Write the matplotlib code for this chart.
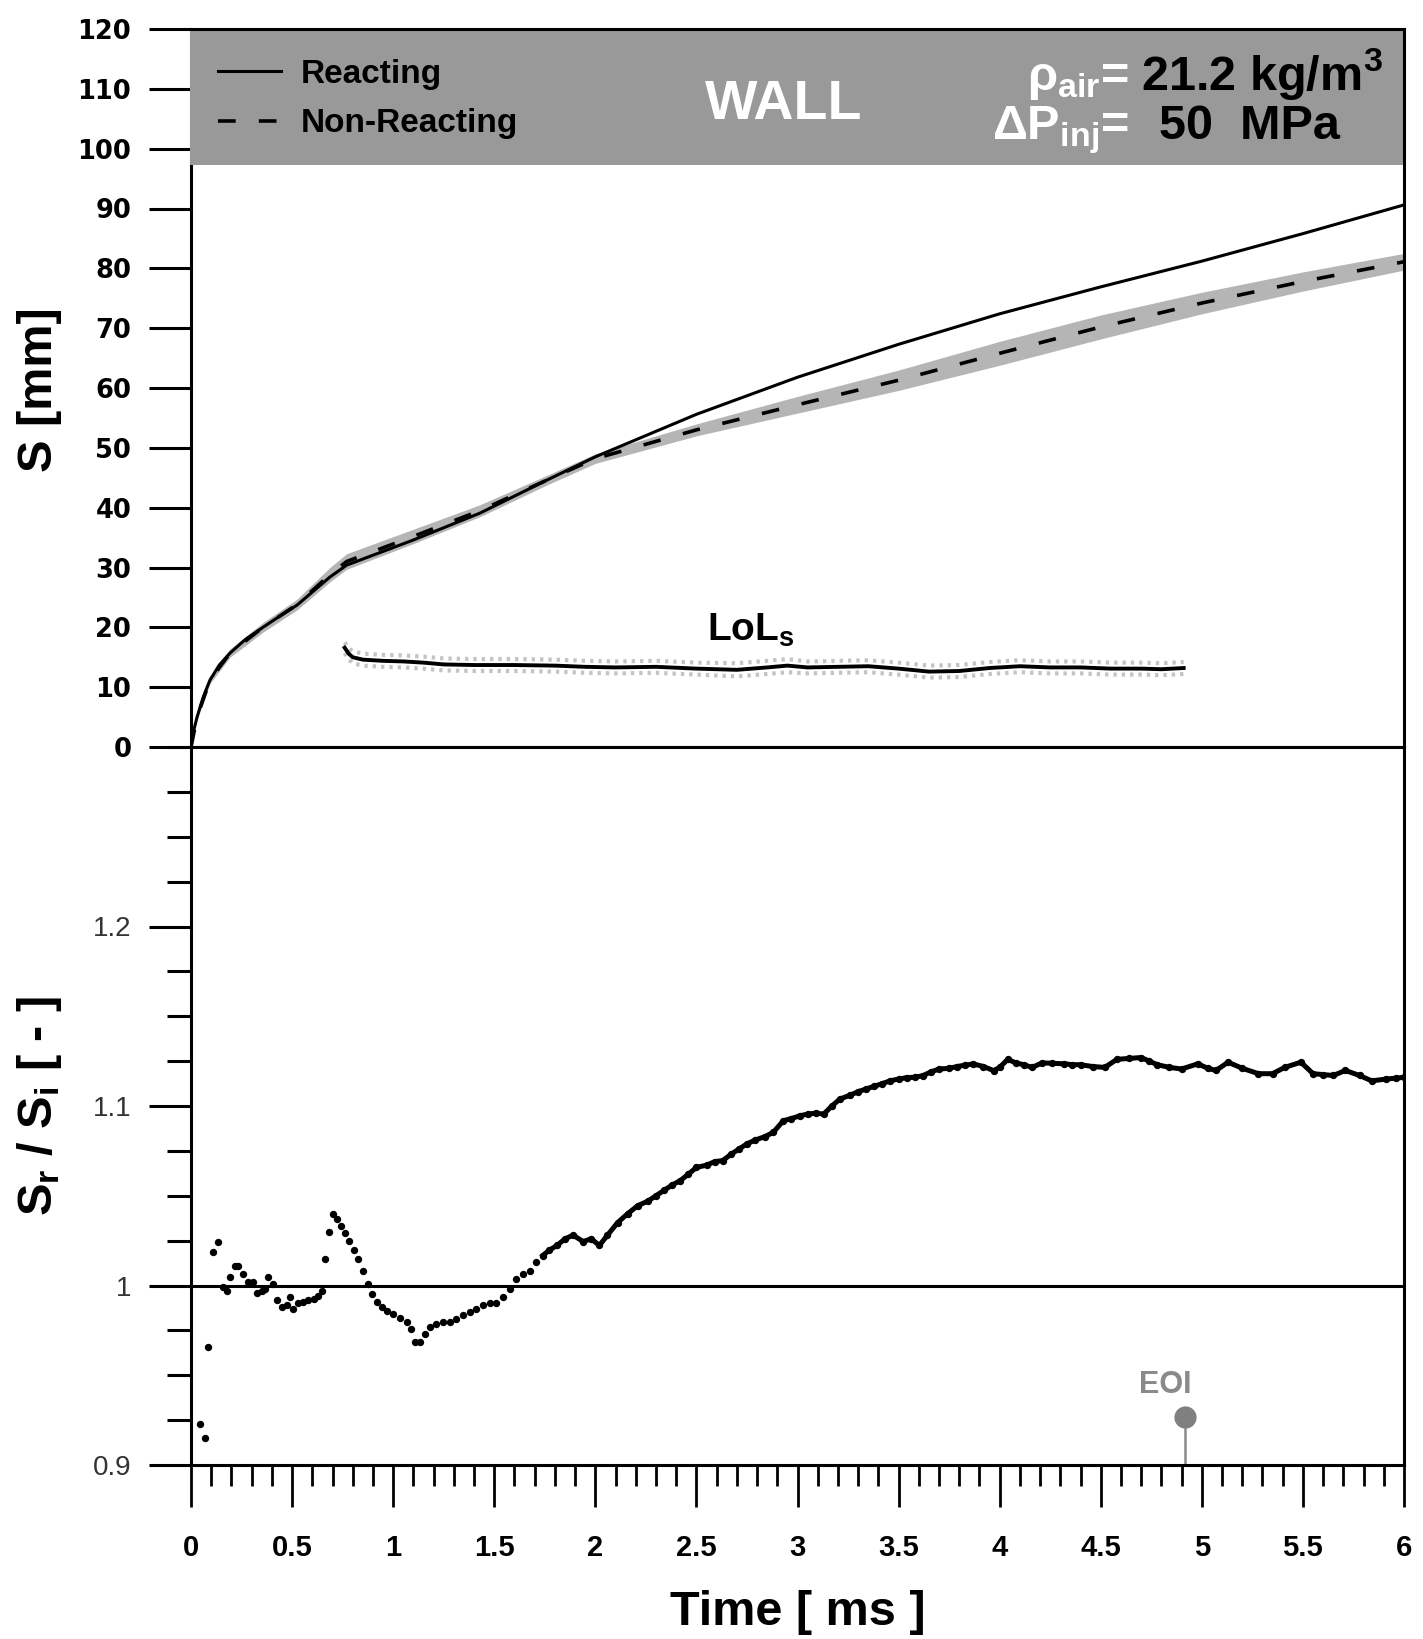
import matplotlib.pyplot as plt
from matplotlib.patches import Rectangle
from matplotlib.ticker import MultipleLocator, FixedLocator

plt.rcParams['font.family'] = ['Liberation Sans', 'DejaVu Sans']
plt.rcParams['mathtext.default'] = 'regular'

# --- upper panel: penetration S [mm] ---
t_react = [0, 0.01, 0.03, 0.06, 0.094, 0.14, 0.193, 0.27, 0.356, 0.44, 0.524, 0.6, 0.687, 0.77,
           1.1, 1.43, 1.76, 2.0, 2.5, 3.0, 3.5, 4.0, 4.5, 5.0, 5.5, 6.0]
s_react = [0, 2.3, 5.0, 8.3, 11.2, 13.7, 15.7, 18.0, 20.0, 21.9, 23.7, 25.9, 28.4, 30.4,
           34.6, 39.1, 44.6, 48.5, 55.6, 61.8, 67.3, 72.4, 76.9, 81.2, 85.8, 90.6]

t_nonreact = [0, 0.03, 0.094, 0.193, 0.356, 0.524, 0.687, 0.77, 1.1, 1.43, 1.76, 2.0,
              2.5, 3.0, 3.5, 4.0, 4.5, 5.0, 5.5, 6.0]
s_nonreact = [0, 5.0, 11.2, 15.7, 20.0, 23.8, 28.8, 31.0, 35.2, 39.5, 44.6, 48.2,
              53.0, 57.2, 61.3, 65.8, 70.2, 74.2, 77.8, 81.1]
s_nonreact_std = [0, 0.4, 0.6, 0.7, 0.8, 0.9, 1.2, 1.3, 1.2, 1.0, 0.8, 0.8,
                  1.0, 1.4, 1.7, 2.0, 2.0, 1.8, 1.6, 1.4]

t_lol = [0.76, 0.78, 0.80, 0.85, 0.95, 1.05, 1.15, 1.25, 1.4, 1.6, 1.8, 1.95, 2.1, 2.3,
         2.5, 2.7, 2.85, 2.95, 3.05, 3.2, 3.35, 3.5, 3.65, 3.8, 3.95, 4.1, 4.25, 4.4,
         4.55, 4.7, 4.8, 4.91]
s_lol = [16.6, 15.6, 15.0, 14.6, 14.4, 14.3, 14.1, 13.8, 13.7, 13.7, 13.6, 13.4, 13.3, 13.4,
         13.1, 12.9, 13.3, 13.6, 13.3, 13.4, 13.5, 13.1, 12.6, 12.7, 13.2, 13.5, 13.3, 13.3,
         13.1, 13.1, 13.0, 13.2]
s_lol_std = [0.9, 0.9, 1.0, 1.0, 1.0, 1.0, 1.0, 1.0, 1.0, 1.0, 1.0, 1.0, 1.0, 1.0,
             1.0, 1.1, 1.1, 1.1, 1.0, 1.0, 1.0, 1.0, 1.0, 1.0, 1.0, 1.0, 1.0, 1.0,
             1.0, 1.0, 1.0, 1.0]

# --- lower panel: S_r / S_i ---
t_ratio_early = [0.045, 0.069, 0.086, 0.107, 0.135, 0.16, 0.177, 0.193, 0.218, 0.234,
                 0.259, 0.284, 0.309, 0.325, 0.35, 0.366, 0.383, 0.408, 0.424, 0.449,
                 0.474, 0.49, 0.507, 0.531, 0.556, 0.581, 0.606, 0.63, 0.647, 0.663,
                 0.684, 0.70, 0.72, 0.74, 0.762, 0.783, 0.806, 0.828, 0.853, 0.877,
                 0.894, 0.918, 0.943, 0.971, 1.0, 1.033, 1.066, 1.09, 1.107, 1.132,
                 1.157, 1.18, 1.213, 1.246, 1.28, 1.31, 1.345, 1.378, 1.41, 1.444,
                 1.477, 1.51, 1.543, 1.576, 1.609, 1.642, 1.675, 1.708]
r_ratio_early = [0.923, 0.915, 0.966, 1.0185, 1.024, 0.999, 0.997, 1.0046, 1.011, 1.011,
                 1.0065, 1.002, 1.002, 0.996, 0.997, 0.998, 1.0046, 1.001, 0.9917, 0.988,
                 0.989, 0.9935, 0.987, 0.990, 0.991, 0.992, 0.9926, 0.9944, 0.997, 1.0148,
                 1.030, 1.040, 1.037, 1.033, 1.029, 1.025, 1.020, 1.015, 1.008, 1.001,
                 0.9954, 0.991, 0.988, 0.986, 0.984, 0.982, 0.9796, 0.976, 0.9685, 0.9685,
                 0.973, 0.9768, 0.9787, 0.9796, 0.9796, 0.9815, 0.9833, 0.985, 0.987, 0.989,
                 0.990, 0.990, 0.9935, 0.998, 1.0037, 1.0065, 1.008, 1.013]

t_ratio = [1.74, 1.77, 1.81, 1.85, 1.89, 1.94, 1.98, 2.02, 2.06, 2.11, 2.16, 2.21, 2.26,
           2.30, 2.34, 2.38, 2.42, 2.46, 2.50, 2.55, 2.59, 2.63, 2.67, 2.71, 2.75, 2.79,
           2.84, 2.88, 2.93, 2.97, 3.01, 3.05, 3.09, 3.13, 3.17, 3.21, 3.26, 3.30, 3.34,
           3.38, 3.42, 3.46, 3.50, 3.54, 3.58, 3.62, 3.66, 3.70, 3.75, 3.79, 3.83, 3.87,
           3.92, 3.97, 4.00, 4.04, 4.08, 4.12, 4.16, 4.21, 4.26, 4.32, 4.36, 4.40, 4.46,
           4.52, 4.58, 4.64, 4.70, 4.74, 4.78, 4.84, 4.90, 4.98, 5.03, 5.07, 5.13, 5.20,
           5.28, 5.35, 5.41, 5.49, 5.55, 5.60, 5.65, 5.71, 5.78, 5.84, 5.91, 5.96, 6.00]
r_ratio = [1.0167, 1.0195, 1.0223, 1.026, 1.028, 1.0245, 1.026, 1.0223, 1.028, 1.035, 1.040,
           1.0445, 1.047, 1.050, 1.053, 1.056, 1.0584, 1.062, 1.0658, 1.067, 1.069, 1.0696,
           1.073, 1.076, 1.0789, 1.081, 1.083, 1.0853, 1.0918, 1.093, 1.0945, 1.0955, 1.096,
           1.0955, 1.100, 1.1039, 1.106, 1.108, 1.1095, 1.111, 1.1125, 1.1141, 1.115, 1.1158,
           1.116, 1.1169, 1.119, 1.1206, 1.121, 1.122, 1.1228, 1.1234, 1.122, 1.1197, 1.1215,
           1.126, 1.124, 1.123, 1.1215, 1.124, 1.1238, 1.1235, 1.123, 1.123, 1.122, 1.1215,
           1.126, 1.1265, 1.127, 1.125, 1.123, 1.1215, 1.1206, 1.1235, 1.121, 1.1198, 1.1244,
           1.121, 1.118, 1.118, 1.1215, 1.1244, 1.118, 1.1175, 1.117, 1.1198, 1.117, 1.114,
           1.115, 1.1155, 1.116]

t_eoi = 4.915
r_eoi = 0.9265

x_ticks = [0, 0.5, 1, 1.5, 2, 2.5, 3, 3.5, 4, 4.5, 5, 5.5, 6]
x_ticklabels = ['0', '0.5', '1', '1.5', '2', '2.5', '3', '3.5', '4', '4.5', '5', '5.5', '6']
s_ticks = [0, 10, 20, 30, 40, 50, 60, 70, 80, 90, 100, 110, 120]
r_ticks = [0.9, 1.0, 1.1, 1.2]
r_ticklabels = ['0.9', '1', '1.1', '1.2']

W, H = 1423, 1639
fig = plt.figure(figsize=(W / 100, H / 100), dpi=100)
ax1 = fig.add_axes([191 / W, (H - 747) / H, 1213 / W, 718 / H])
ax2 = fig.add_axes([191 / W, (H - 1465) / H, 1213 / W, 718 / H])

for ax in (ax1, ax2):
    for sp in ax.spines.values():
        sp.set_linewidth(2.2)
    ax.set_xlim(0, 6)

# ---------- upper panel ----------
ax1.set_ylim(0, 120)
ax1.fill_between(t_nonreact, [s - d for s, d in zip(s_nonreact, s_nonreact_std)],
                 [s + d for s, d in zip(s_nonreact, s_nonreact_std)],
                 color='#b5b5b5', lw=0, zorder=1)
ax1.plot(t_react, s_react, color='black', lw=2.2, label='Reacting', zorder=2)
ax1.plot(t_nonreact, s_nonreact, color='black', lw=2.6, ls=(0, (4.9, 6.4)),
         label='Non-Reacting', zorder=2)

lol_hi = [s + d for s, d in zip(s_lol, s_lol_std)]
lol_lo = [s - d for s, d in zip(s_lol, s_lol_std)]
ax1.plot(t_lol, lol_hi, color='#c4c4c4', lw=3, ls=(0, (0.8, 1.2)), zorder=1)
ax1.plot(t_lol, lol_lo, color='#c4c4c4', lw=3, ls=(0, (0.8, 1.2)), zorder=1)
ax1.plot(t_lol, s_lol, color='black', lw=2.8, zorder=2)
ax1.text(2.55, 17.7, 'LoL$_s$', fontsize=28, fontweight='bold', ha='left', va='baseline')

ax1.yaxis.set_major_locator(FixedLocator(s_ticks))
ax1.tick_params(axis='y', which='major', direction='out', length=30, width=2.2, pad=13,
                labelsize=18.5)
for lab in ax1.get_yticklabels():
    lab.set_fontfamily('DejaVu Sans')
    lab.set_fontweight('bold')
ax1.tick_params(axis='x', bottom=False, labelbottom=False)

# header box
ax1.add_patch(Rectangle((-0.007, 97.3), 6.007, 22.7, facecolor='#999999', edgecolor='none',
                        zorder=2.6, clip_on=False))
ax1.spines['top'].set_zorder(2.8)
ax1.spines['right'].set_zorder(2.8)
ax1.text(2.93, 107.3, 'WALL', color='white', fontsize=40, fontweight='bold',
         ha='center', va='center', zorder=4)
ax1.text(4.64, 109.8, 'ρ$_{air}$=', color='white', fontsize=35, fontweight='bold',
         ha='right', va='baseline', zorder=4)
ax1.text(4.70, 109.8, '21.2 kg/m$^3$', color='black', fontsize=35, fontweight='bold',
         ha='left', va='baseline', zorder=4)
ax1.text(4.64, 101.6, 'ΔP$_{inj}$=', color='white', fontsize=35, fontweight='bold',
         ha='right', va='baseline', zorder=4)
ax1.text(4.79, 101.6, '50  MPa', color='black', fontsize=35, fontweight='bold',
         ha='left', va='baseline', zorder=4)

leg = ax1.legend(loc='upper left', bbox_to_anchor=(0.022, 0.958), frameon=False,
                 prop={'weight': 'bold', 'size': 24}, handlelength=1.9,
                 handletextpad=0.6, labelspacing=0.55, borderpad=0, borderaxespad=0)
leg.set_zorder(5)

# ---------- lower panel ----------
ax2.set_ylim(0.9, 1.3)
ax2.axhline(1.0, color='black', lw=2.2, zorder=1)
ax2.plot(t_ratio_early, r_ratio_early, 'o', color='black', ms=5.3, mew=0, zorder=3)
ax2.plot(t_ratio, r_ratio, '-o', color='black', lw=3.6, ms=5.3, mew=0, zorder=3)

ax2.plot([t_eoi, t_eoi], [0.9, r_eoi], color='#8a8a8a', lw=1.8, zorder=2)
ax2.plot([t_eoi], [r_eoi], 'o', color='#808080', ms=16, mew=0, zorder=3)
ax2.text(4.82, 0.94, 'EOI', color='#8a8a8a', fontsize=22, fontweight='bold',
         ha='center', va='baseline')

ax2.yaxis.set_major_locator(FixedLocator(r_ticks))
ax2.set_yticklabels(r_ticklabels)
ax2.yaxis.set_minor_locator(MultipleLocator(0.025))
ax2.tick_params(axis='y', which='major', direction='out', length=30, width=2.2, pad=13,
                labelsize=20, labelcolor='#333333')
ax2.tick_params(axis='y', which='minor', direction='out', length=17, width=2.2)

ax2.xaxis.set_major_locator(FixedLocator(x_ticks))
ax2.set_xticklabels(x_ticklabels)
ax2.xaxis.set_minor_locator(MultipleLocator(0.1))
ax2.tick_params(axis='x', which='major', direction='out', length=30, width=2.0, pad=20,
                labelsize=21)
ax2.tick_params(axis='x', which='minor', direction='out', length=15, width=2.0)
for lab in ax2.get_xticklabels():
    lab.set_fontweight('bold')

# axis titles
fig.text(798 / W, (H - 1625) / H, 'Time [ ms ]', fontsize=35, fontweight='bold',
         ha='center', va='baseline')
fig.text(40 / W, (H - 390) / H, 'S [mm]', fontsize=35, fontweight='bold',
         rotation=90, ha='center', va='center')
fig.text(40 / W, (H - 1106) / H, 'S$_r$ / S$_i$ [ - ]', fontsize=35, fontweight='bold',
         rotation=90, ha='center', va='center')

fig.savefig('out.png', dpi=100)
